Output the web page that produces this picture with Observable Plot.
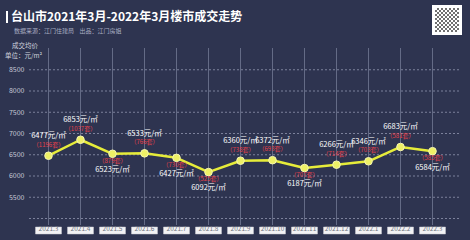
<!DOCTYPE html>
<html><head><meta charset="utf-8">
<script src="https://cdn.jsdelivr.net/npm/d3@7"></script>
<script src="https://cdn.jsdelivr.net/npm/@observablehq/plot@0.6"></script>
<style>
html,body{margin:0;padding:0;background:#2e3450;}
#wrap{position:relative;width:470px;height:240px;overflow:hidden;font-family:"Noto Sans CJK SC","Noto Sans",sans-serif;}
#head{position:relative;height:40px;}
.bar{position:absolute;left:6px;top:11px;width:2px;height:12px;background:#fff;}
.title{position:absolute;left:11px;top:8px;font-size:12px;font-weight:bold;color:#fff;line-height:16px;white-space:nowrap;}
.sub{position:absolute;left:14px;top:26px;font-size:6px;color:#a9aec2;line-height:9px;white-space:nowrap;}
.u1{position:absolute;left:12px;top:41px;font-size:6.5px;color:#d0d3de;line-height:8px;white-space:nowrap;}
.u2{position:absolute;left:5px;top:51px;font-size:6.5px;color:#d0d3de;line-height:8px;white-space:nowrap;}
.qr{position:absolute;left:432px;top:5px;width:30px;height:30px;background:#fff;}
.qr i{position:absolute;left:3px;top:3px;width:24px;height:24px;
 background:repeating-conic-gradient(#333 0 25%,#fff 0 50%) 0 0/4px 4px;opacity:0.7;}
svg{display:block;}
</style></head>
<body><div id="wrap">
<div id="head">
<div class="bar"></div>
<div class="title">台山市2021年3月-2022年3月楼市成交走势</div>
<div class="sub">数据来源：江门住建局&nbsp;&nbsp;&nbsp;&nbsp;出品：江门房姐</div>
<div class="qr"><i></i></div>
</div>
<div class="u1">成交均价</div>
<div class="u2">单位：元/m²</div>
<div id="chart"></div>
</div>
<script>
const months = ["2021.3","2021.4","2021.5","2021.6","2021.7","2021.8","2021.9","2021.10","2021.11","2021.12","2022.1","2022.2","2022.3"];
const prices = [6477,6853,6523,6533,6427,6092,6360,6372,6187,6266,6346,6683,6584];
const units = [1196,1037,879,766,730,525,738,693,707,714,703,581,585];
const labelPos = ["above","above","below","above","below","below","above","above","below","above","above","above","below"];
const yTicks = [5500,6000,6500,7000,7500,8000,8500];
const gridTicks = [5000,5500,6000,6500,7000,7500,8000,8500];

const data = months.map((m,i)=>({month:m, price:prices[i], units:units[i], pos:labelPos[i]}));
const above = data.filter(d=>d.pos==="above");
const below = data.filter(d=>d.pos==="below");
const boxSymbol = {draw(ctx){ ctx.rect(-13,-3.5,26,7); }};
const font = '"Noto Sans CJK SC","Noto Sans",sans-serif';

const chart = Plot.plot({
  width:470, height:200,
  marginTop:8, marginBottom:15, marginLeft:29, marginRight:10,
  insetBottom:7, insetLeft:16, insetRight:26,
  style:{background:"transparent", fontFamily:font},
  x:{type:"point", domain:months, padding:0, axis:null},
  y:{domain:[5000,9000], axis:null},
  marks:[
    Plot.ruleX(months, {x:d=>d, stroke:"#646b86", strokeWidth:1}),
    Plot.ruleY(gridTicks, {y:d=>d, stroke:"#9096ae", strokeWidth:0.8, strokeDasharray:"2,2"}),
    Plot.axisY(yTicks, {anchor:"left", tickSize:0, tickPadding:5, label:null, tickFormat:d=>String(d), fill:"#c6c9d6", fontSize:7}),
    Plot.line(data, {x:"month", y:"price", stroke:"#e6ec3a", strokeWidth:2.5}),
    Plot.dot(data, {x:"month", y:"price", r:3.8, fill:"#eef066", stroke:"#f6f6b0", strokeWidth:1}),
    Plot.text(above, {x:"month", y:"price", text:d=>`${d.price}元/㎡`, dy:-20, fill:"#ffffff", fontSize:7.5}),
    Plot.text(above, {x:"month", y:"price", text:d=>`（${d.units}套）`, dy:-11, fill:"#e5414a", fontSize:6}),
    Plot.text(below, {x:"month", y:"price", text:d=>`（${d.units}套）`, dy:7, fill:"#e5414a", fontSize:6}),
    Plot.text(below, {x:"month", y:"price", text:d=>`${d.price}元/㎡`, dy:16, fill:"#ffffff", fontSize:7.5}),
    Plot.dot(months, {x:d=>d, frameAnchor:"bottom", dy:5, symbol:boxSymbol, fill:"#f2f2f4", stroke:"#c8c8d0", strokeWidth:0.5}),
    Plot.text(months, {x:d=>d, text:d=>d, frameAnchor:"bottom", dy:5, fill:"#707480", fontSize:6.5})
  ]
});
document.getElementById("chart").appendChild(chart);
</script>
</body></html>
